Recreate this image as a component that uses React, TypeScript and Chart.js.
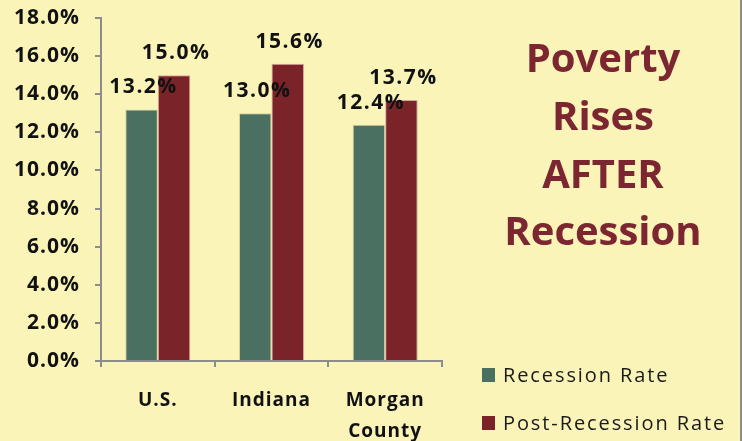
import React, { useEffect, useRef } from "react";
import { Chart, registerables } from "chart.js";

Chart.register(...registerables);

const categories: (string | string[])[] = ["U.S.", "Indiana", ["Morgan", "County"]];
const recessionRate = [13.2, 13.0, 12.4];
const postRecessionRate = [15.0, 15.6, 13.7];
const seriesNames = ["Recession Rate", "Post-Recession Rate"];
const titleLines = ["Poverty", "Rises", "AFTER", "Recession"];

const BG = "#FAF4B8";
const GREEN = "#4A7062";
const RED = "#7A2429";
const TITLE = "#7B2630";
const AXIS = "#8C8C8C";
const FONT = "'Open Sans', Lato, sans-serif";

const spacing = {
  id: "spacing",
  beforeLayout(chart: any) {
    (chart.ctx as any).letterSpacing = "1px";
  },
  beforeDraw(chart: any) {
    (chart.ctx as any).letterSpacing = "1px";
  },
};

const overlay = {
  id: "overlay",
  afterDatasetsDraw(chart: any) {
    const ctx = chart.ctx as CanvasRenderingContext2D;
    ctx.save();
    // data labels
    ctx.font = `bold 21px ${FONT}`;
    (ctx as any).letterSpacing = "1.5px";
    ctx.fillStyle = "#111";
    ctx.textAlign = "center";
    ctx.textBaseline = "alphabetic";
    chart.data.datasets.forEach((ds: any, di: number) => {
      const meta = chart.getDatasetMeta(di);
      meta.data.forEach((bar: any, i: number) => {
        const v = ds.data[i] as number;
        ctx.fillText(v.toFixed(1) + "%", bar.x + 2, bar.y - 16);
      });
    });
    // title
    ctx.fillStyle = TITLE;
    ctx.font = `bold 40px ${FONT}`;
    (ctx as any).letterSpacing = "0px";
    const baselines = [72, 130, 188, 245];
    titleLines.forEach((t, i) => ctx.fillText(t, 603, baselines[i]));
    // legend
    ctx.textAlign = "left";
    ctx.font = `20px ${FONT}`;
    (ctx as any).letterSpacing = "1.9px";
    const colors = [GREEN, RED];
    const ys = [368, 416];
    seriesNames.forEach((n, i) => {
      ctx.fillStyle = colors[i];
      ctx.fillRect(482, ys[i], 13, 14);
      ctx.fillStyle = "#1a1a1a";
      ctx.fillText(n, 503, ys[i] + 14);
    });
    ctx.restore();
  },
};

export default function App() {
  const ref = useRef<HTMLCanvasElement>(null);
  useEffect(() => {
    if (!ref.current) return;
    const chart = new Chart(ref.current, {
      type: "bar",
      data: {
        labels: categories,
        datasets: [
          {
            label: seriesNames[0],
            data: recessionRate,
            backgroundColor: GREEN,
            borderColor: "#D9CFA0",
            borderWidth: 1,
            categoryPercentage: 0.572,
            barPercentage: 1,
          },
          {
            label: seriesNames[1],
            data: postRecessionRate,
            backgroundColor: RED,
            borderColor: "#D9A8A0",
            borderWidth: 1,
            categoryPercentage: 0.572,
            barPercentage: 1,
          },
        ],
      },
      options: {
        animation: false,
        responsive: false,
        maintainAspectRatio: false,
        layout: { padding: { top: 18, right: 300, left: 0, bottom: 0 } },
        plugins: { legend: { display: false }, tooltip: { enabled: false } },
        scales: {
          x: {
            grid: { drawOnChartArea: false, drawTicks: true, tickLength: 6, color: AXIS, lineWidth: 2, offset: true },
            border: { color: AXIS, width: 2 },
            ticks: {
              color: "#111",
              font: { family: FONT, size: 19, weight: "bold", lineHeight: 1.65 },
              padding: 18,
              maxRotation: 0,
            },
            afterFit: (s: any) => { s.height = 80; s.paddingLeft = 0; s.paddingRight = 0; },
          },
          y: {
            min: 0,
            max: 18,
            ticks: {
              stepSize: 2,
              color: "#111",
              font: { family: FONT, size: 21, weight: "bold" },
              padding: 15,
              callback: (v: any) => Number(v).toFixed(1) + "%",
            },
            grid: { drawOnChartArea: false, drawTicks: true, tickLength: 6, color: AXIS, lineWidth: 2 },
            border: { color: AXIS, width: 2 },
            afterFit: (s: any) => { s.width = 101; s.paddingTop = 0; s.paddingBottom = 0; },
          },
        },
      },
      plugins: [spacing, overlay],
    });
    return () => chart.destroy();
  }, []);
  return (
    <div style={{ position: "fixed", left: 0, top: 0, width: 742, height: 441, background: BG, boxSizing: "border-box", borderRight: `2px solid ${AXIS}` }}>
      <canvas ref={ref} width={742} height={441} style={{ display: "block", width: 742, height: 441 }} />
    </div>
  );
}
